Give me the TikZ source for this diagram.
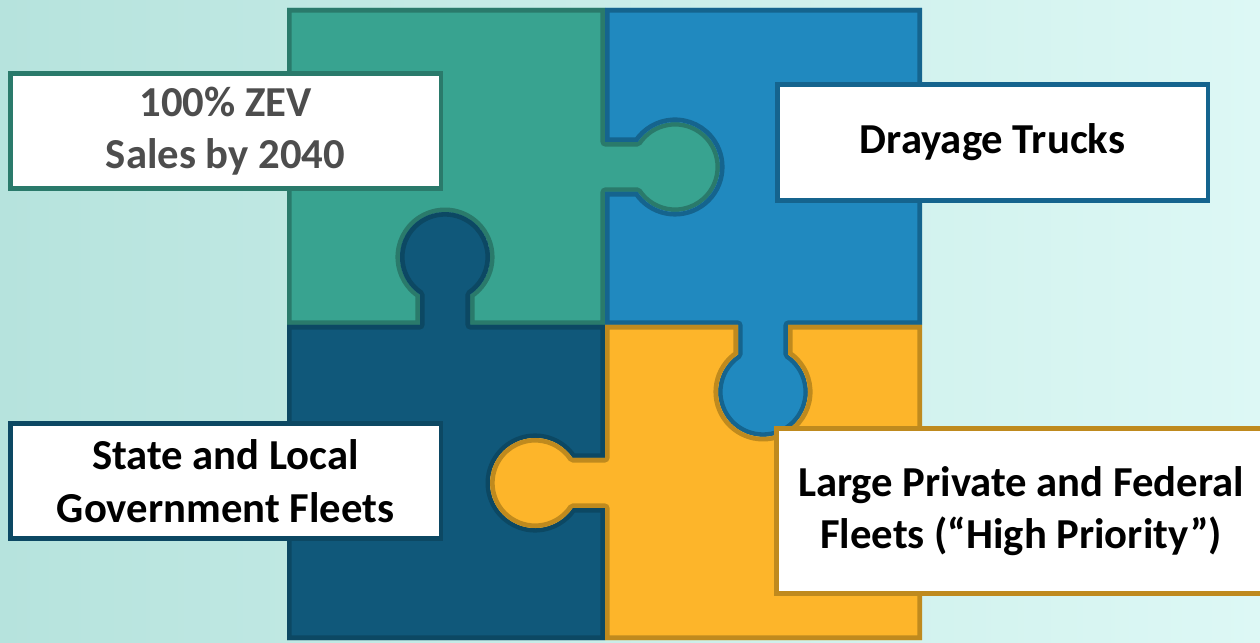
\documentclass[tikz,border=0pt]{standalone}
\usepackage{fontspec}
\setmainfont{Carlito}
\usepackage{xcolor}
\usepackage{tikz}
\usetikzlibrary{positioning,calc}

\definecolor{bgleft}{HTML}{B6E3DD}
\definecolor{bgright}{HTML}{DDF8F5}
\definecolor{greenfill}{HTML}{38A390}
\definecolor{greenline}{HTML}{2A7A6B}
\definecolor{bluefill}{HTML}{2089BF}
\definecolor{blueline}{HTML}{15648E}
\definecolor{navyfill}{HTML}{10587A}
\definecolor{navyline}{HTML}{0C4863}
\definecolor{goldfill}{HTML}{FDB52A}
\definecolor{goldline}{HTML}{BF8A1E}
\definecolor{zevtext}{HTML}{4D4D4D}

% one piece: fill, then an inner border (clipped to the piece)
\newcommand{\puzzlepiece}[3]{%
  \begin{scope}
    \clip #3;
    \fill[#1] #3;
    \draw[#2, line width=5.2pt, line join=round] #3;
  \end{scope}}

\begin{document}
\begin{tikzpicture}[x=0.02cm, y=0.02cm,
    labelbox/.style={draw, fill=white, line width=2.8pt, align=center,
      inner sep=0pt, font=\bfseries\fontsize{24.3}{30}\selectfont}]
    \useasboundingbox (0,0) rectangle (1260,642);
    \shade[left color=bgleft, right color=bgright] (0,0) rectangle (1260,642);

    % Top left piece (green) - tab to the right, slot at the bottom
    \puzzlepiece{greenfill}{greenline}{(287,634) -- (605,634) -- (605,500) -- (637.6,500)
      arc (146.25:-146.25:45) -- (605,450) -- (605,317) -- (470,317) -- (470,347.5)
      arc (-56.25:236.25:45) -- (420,317) -- (287,317) -- cycle}

    % Top right piece (blue) - slot on the left, tab down
    \puzzlepiece{bluefill}{blueline}{(605,634) -- (922,634) -- (922,317) -- (788,317) -- (788,287.5)
      arc (56.25:-236.25:45) -- (738,317) -- (605,317) -- (605,450) -- (637.6,450)
      arc (-146.25:146.25:45) -- (605,500) -- cycle}

    % Bottom left piece (navy) - tab up, slot on the right
    \puzzlepiece{navyfill}{navyline}{(287,317) -- (420,317) -- (420,347.5)
      arc (236.25:-56.25:45) -- (470,317) -- (605,317) -- (605,184) -- (572.5,184)
      arc (33.75:326.25:45) -- (605,134) -- (605,2) -- (287,2) -- cycle}

    % Bottom right piece (gold) - slot at the top, tab to the left
    \puzzlepiece{goldfill}{goldline}{(605,317) -- (738,317) -- (738,287.5)
      arc (123.75:416.25:45) -- (788,317) -- (922,317) -- (922,2) -- (605,2) -- (605,134)
      -- (572.5,134) arc (-33.75:-326.25:45) -- (605,184) -- cycle}

    % Labels
    \node[labelbox, draw=greenline, text=zevtext, minimum width=8.62cm, minimum height=2.3cm]
      (zev) at (225.5,511) {100\% ZEV\\Sales by 2040};
    \node[labelbox, draw=blueline, minimum width=8.62cm, minimum height=2.32cm]
      (drayage) at (992.5,499.5) {Drayage Trucks};
    \node[labelbox, draw=navyline, minimum width=8.62cm, minimum height=2.3cm]
      (stategov) at (225.5,161) {State and Local\\Government Fleets};
    \node[labelbox, draw=goldline, minimum width=9.78cm, minimum height=3.3cm]
      (highprio) at (1021,131) {Large Private and Federal\\Fleets (“High Priority”)};
\end{tikzpicture}
\end{document}
